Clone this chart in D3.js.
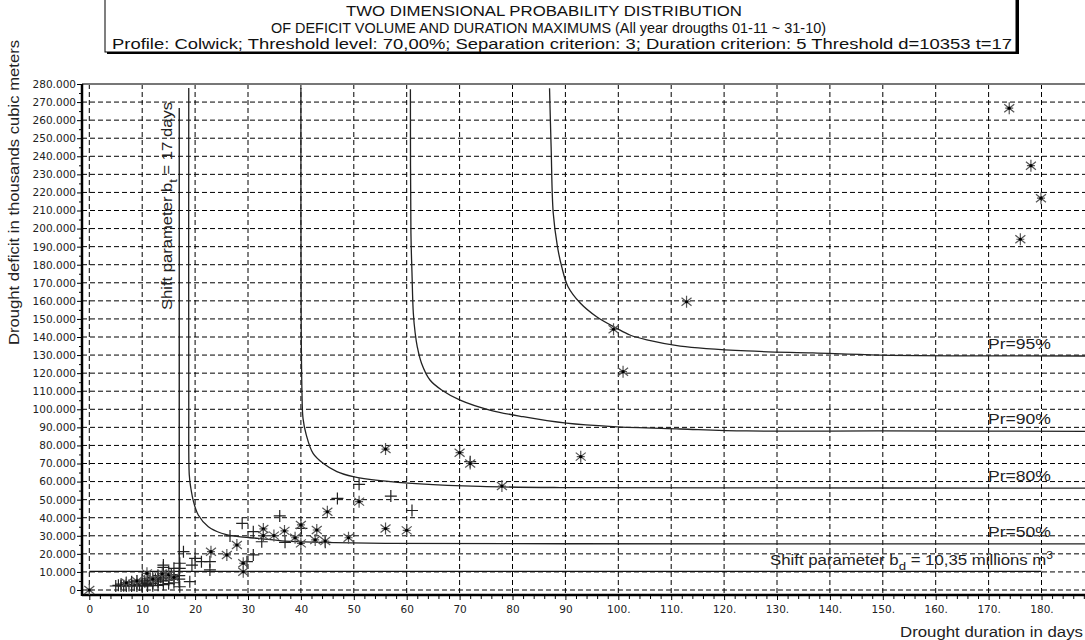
<!DOCTYPE html>
<html>
<head>
<meta charset="utf-8">
<script src="https://cdn.jsdelivr.net/npm/d3@7"></script>
<style>
  body { margin: 0; background: #fff; }
  svg { display: block; font-family: "Liberation Sans", Arial, sans-serif; }
</style>
</head>
<body>
<svg id="plot"></svg>
<script>
// Tick values and labels
const xTicks = d3.range(0, 181, 10);
const xTickLabels = ["0", "10", "20", "30", "40", "50", "60", "70", "80", "90",
  "100.", "110.", "120.", "130.", "140.", "150.", "160.", "170.", "180."];
const yTicks = d3.range(0, 281, 10); // thousands of m3

// Probability contours [duration days, deficit thousand m3]
const pr50 = [[18.8, 277.8], [18.8, 105], [18.9, 63.6], [19.2, 56.3], [19.7, 48.9], [20.6, 41.5],
  [22.5, 35.0], [25.0, 31.4], [28.2, 29.5], [31.9, 28.6], [37.0, 27.1], [43.3, 26.4],
  [55.9, 25.8], [90, 25.6], [188.5, 25.5]];
const pr80 = [[40.0, 277.8], [40.05, 150], [40.2, 110], [40.4, 95], [41.0, 86], [42.3, 75.6],
  [44.2, 70.1], [46.8, 65.5], [49.9, 62.7], [55.0, 60.5], [62.5, 58.7], [73.9, 57.3],
  [89, 56.7], [120, 56.5], [188.5, 56.4]];
const pr90 = [[60.7, 277.1], [60.8, 197.6], [61.0, 175.4], [61.25, 153.3], [61.6, 142.2],
  [62.0, 134.6], [62.8, 125.5], [64.4, 116.2], [66.6, 110.7], [70.1, 105.1], [75.7, 99.6],
  [82.0, 95.9], [90.2, 92.3], [99.0, 90.4], [111.7, 89.1], [124.3, 88.0], [149.5, 88.0],
  [188.5, 87.8]];
const pr95 = [[87.0, 277.6], [87.3, 245.3], [87.7, 208.6], [88.5, 190.0], [89.3, 178.9],
  [90.5, 167.8], [92.8, 158.8], [95.9, 151.2], [99.7, 144.8], [102.2, 141.1], [105.4, 138.4],
  [111.7, 135.0], [124.3, 132.3], [136.8, 131.2], [149.5, 130.0], [188.5, 129.5]];
const prNames = ["Pr=95%", "Pr=90%", "Pr=80%", "Pr=50%"];
const prLabelY = [133.5, 92, 60.5, 29.5];

// Shift parameters
const shiftT = 17;      // days
const shiftD = 10.35;   // thousand m3

// Observed droughts
const plusPts = [[5, 2.2], [5.5, 2.6], [6, 2.2], [6, 3.2], [6.5, 2.4], [7, 2.2], [7, 2.8], [7, 4],
  [7.5, 2.5], [8, 2.2], [8, 3], [8, 4.5], [8.5, 2.6], [9, 2.2], [9, 3.2], [9, 5], [9.5, 2.8],
  [10, 2.2], [10, 3.5], [10, 5.5], [10, 2.5], [10.5, 4.5], [11, 2.2], [11, 4], [11, 6.5],
  [11, 3], [11.5, 5.5], [12, 2.4], [12, 5], [12, 7], [12, 3.5], [12.5, 6], [13, 2.6], [13, 6],
  [13, 8], [13, 4.5], [13.5, 7], [14, 3], [14, 6.5], [14, 9], [14, 5], [14, 12.5], [14.5, 8],
  [15, 3.5], [15, 7], [15, 5.5], [15, 10], [15.5, 8.5], [16, 4], [16, 6], [16, 7.5], [16, 12],
  [17, 6], [17, 8], [17.1, 1.8], [19.0, 4.6], [17.8, 21.2], [17.1, 14.8], [17.1, 12.0],
  [14.0, 13.8], [20.0, 17.5], [21.2, 15.7], [19.4, 13.8], [22.8, 15.7], [22.8, 11.1],
  [29.8, 15.7], [31.0, 19.4], [26.6, 29.9], [28.9, 36.9], [31.0, 32.3], [32.6, 26.7],
  [36.0, 41.0], [37.0, 26.4], [40.1, 34.1], [44.6, 26.4], [46.9, 50.7], [51.0, 58.5],
  [57, 52], [61, 44], [72, 71]];
const starPts = [[0, 0], [7, 4], [9, 5], [12, 6], [10.9, 9.2], [13.8, 9], [15, 8.5], [16, 7],
  [29.1, 10.1], [29.1, 14.8], [23.0, 21.2], [26.0, 19.4], [27.9, 24.9], [32.9, 33.8],
  [32.9, 30.1], [34.9, 30.1], [36.9, 32.7], [38.9, 28.9], [40.0, 36.0], [40.0, 25.8],
  [42.7, 27.7], [43.0, 33.2], [44.6, 27.1], [45.0, 43.3], [49.0, 28.9], [51.0, 48.9],
  [56, 78], [56, 34], [60, 33], [70, 76], [72, 70], [78, 57.5], [92.9, 73.8],
  [99.1, 144.3], [100.9, 120.8], [112.9, 159.5], [173.9, 266.6], [178.0, 234.8],
  [179.9, 216.8], [176.0, 194.1]];

const width = 1085, height = 640;
const plotLeft = 82, plotTop = 84, plotBottom = 595, plotRight = 1085;

const svg = d3.select('#plot')
  .attr('width', width)
  .attr('height', height)
  .style('background', 'white');

const x = d3.scaleLinear().domain([0, 180]).range([89.3, 1041.5]);
const y = d3.scaleLinear().domain([0, 280]).range([590, 84]);

// squeeze or stretch a text to the width it has in the picture
function fit(sel, w) {
  sel.attr('textLength', w).attr('lengthAdjust', 'spacingAndGlyphs');
  return sel;
}

svg.append('defs').append('clipPath').attr('id', 'clip')
  .append('rect').attr('x', plotLeft).attr('y', plotTop)
  .attr('width', plotRight - plotLeft).attr('height', plotBottom - plotTop);

// grid
const grid = svg.append('g').attr('stroke', '#000').attr('stroke-width', 1)
  .attr('stroke-dasharray', '5,3');
grid.selectAll('.vg').data(xTicks).join('line')
  .attr('x1', d => x(d)).attr('x2', d => x(d))
  .attr('y1', plotTop).attr('y2', plotBottom);
grid.selectAll('.hg').data(yTicks.filter(d => d < 280)).join('line')
  .attr('x1', plotLeft).attr('x2', plotRight)
  .attr('y1', d => y(d)).attr('y2', d => y(d));

// top border
svg.append('line').attr('x1', plotLeft).attr('x2', plotRight)
  .attr('y1', plotTop).attr('y2', plotTop)
  .attr('stroke', '#777').attr('stroke-width', 2);

// axes
const yAxis = svg.append('g')
  .attr('transform', `translate(${plotLeft}, 0)`)
  .call(d3.axisLeft(y).tickValues(yTicks).tickSize(5).tickPadding(1)
    .tickFormat(d => d === 0 ? '0' : d + '.000'));
yAxis.select('.domain').remove();
yAxis.selectAll('text').style('font-family', '"DejaVu Sans", sans-serif')
  .style('font-size', '10.5px').attr('fill', '#222');

svg.append('g')
  .attr('transform', `translate(${plotLeft}, 0)`)
  .call(d3.axisLeft(y).tickValues(d3.range(5, 280, 10)).tickSize(3).tickFormat(''))
  .select('.domain').remove();

const xAxis = svg.append('g')
  .attr('transform', `translate(0, ${plotBottom})`)
  .call(d3.axisBottom(x).tickValues(xTicks).tickSize(5).tickPadding(6)
    .tickFormat((d, i) => xTickLabels[i]));
xAxis.select('.domain').remove();
xAxis.selectAll('text').style('font-family', '"DejaVu Sans", sans-serif')
  .style('font-size', '10.5px').attr('fill', '#222');

svg.append('g')
  .attr('transform', `translate(0, ${plotBottom})`)
  .call(d3.axisBottom(x).tickValues(d3.range(0, 189, 2).filter(d => d % 10)).tickSize(4).tickFormat(''))
  .select('.domain').remove();

svg.append('line').attr('x1', plotLeft).attr('x2', plotLeft)
  .attr('y1', plotTop).attr('y2', plotBottom + 1)
  .attr('stroke', '#000').attr('stroke-width', 2.5);
svg.append('line').attr('x1', plotLeft).attr('x2', plotRight)
  .attr('y1', plotBottom).attr('y2', plotBottom)
  .attr('stroke', '#000').attr('stroke-width', 2.5);

const plot = svg.append('g').attr('clip-path', 'url(#clip)');

// shift parameter lines
plot.append('line')
  .attr('x1', x(0)).attr('x2', x(180))
  .attr('y1', y(shiftD)).attr('y2', y(shiftD))
  .attr('stroke', '#111').attr('stroke-width', 1.3);
plot.append('line')
  .attr('x1', x(shiftT)).attr('x2', x(shiftT))
  .attr('y1', y(1)).attr('y2', y(266.7))
  .attr('stroke', '#111').attr('stroke-width', 1.3);

// contours
const line = d3.line()
  .x(d => x(d[0])).y(d => y(d[1]))
  .curve(d3.curveCatmullRom.alpha(0.5));
plot.selectAll('.pr').data([pr95, pr90, pr80, pr50]).join('path')
  .attr('d', line)
  .attr('fill', 'none').attr('stroke', '#222').attr('stroke-width', 1.3);

// observed points
plot.selectAll('.plus').data(plusPts).join('path')
  .attr('transform', d => `translate(${x(d[0])}, ${y(d[1])})`)
  .attr('d', 'M-6,0H6M0,-6V6')
  .attr('stroke', '#222').attr('stroke-width', 1.2).attr('fill', 'none');

const stars = plot.selectAll('.star').data(starPts).join('g')
  .attr('transform', d => `translate(${x(d[0])}, ${y(d[1])})`);
stars.append('path')
  .attr('d', 'M0,-6V6M-5,-4L5,4M-5,4L5,-4M-4,0H4')
  .attr('stroke', '#555').attr('stroke-width', 1.2).attr('fill', 'none');
stars.append('circle').attr('r', 1.6).attr('fill', '#000');

// Pr labels
svg.selectAll('.prl').data(prNames).join('text')
  .attr('x', 988).attr('y', (d, i) => y(prLabelY[i]))
  .style('font-size', '14px').attr('fill', '#222')
  .text(d => d)
  .call(fit, 63);

// shift texts
const sd = svg.append('text').attr('x', 770).attr('y', 565)
  .style('font-size', '14px').attr('fill', '#222');
sd.append('tspan').text('Shift parameter b');
sd.append('tspan').attr('dy', 5).style('font-size', '11px').text('d');
sd.append('tspan').attr('dy', -5).text(' = 10,35 millions m');
sd.append('tspan').attr('dy', -6).style('font-size', '10px').text('3');
fit(sd, 283);

const st = svg.append('text')
  .attr('transform', 'translate(172, 310) rotate(-90)')
  .style('font-size', '14px').attr('fill', '#222');
st.append('tspan').text('Shift parameter b');
st.append('tspan').attr('dy', 5).style('font-size', '11px').text('t');
st.append('tspan').attr('dy', -5).text(' = 17 days');
fit(st, 208);

// axis titles
svg.append('text')
  .attr('transform', 'translate(19, 345) rotate(-90)')
  .style('font-size', '14px').attr('fill', '#222')
  .text('Drought deficit in thousands cubic meters')
  .call(fit, 305);
svg.append('text')
  .attr('x', 900).attr('y', 637)
  .style('font-size', '14px').attr('fill', '#222')
  .text('Drought duration in days')
  .call(fit, 183);

// title box
svg.append('rect').attr('x', 107).attr('y', -3).attr('width', 912).attr('height', 57)
  .attr('fill', '#000');
svg.append('rect').attr('x', 105).attr('y', -3).attr('width', 911).attr('height', 55)
  .attr('fill', '#fff').attr('stroke', '#000').attr('stroke-width', 1);
const titles = [
  ['TWO DIMENSIONAL PROBABILITY DISTRIBUTION', 346, 16, 396],
  ['OF DEFICIT VOLUME AND DURATION MAXIMUMS (All year drougths 01-11 ~ 31-10)', 271, 32.5, 555],
  ['Profile: Colwick; Threshold level: 70,00%; Separation criterion: 3; Duration criterion: 5 Threshold d=10353 t=17', 112, 49, 900]
];
titles.forEach(t => {
  svg.append('text').attr('x', t[1]).attr('y', t[2])
    .style('font-family', '"Liberation Sans Narrow", "Liberation Sans", sans-serif')
    .style('font-size', '14.5px').attr('fill', '#111')
    .text(t[0]).call(fit, t[3]);
});
</script>
</body>
</html>
